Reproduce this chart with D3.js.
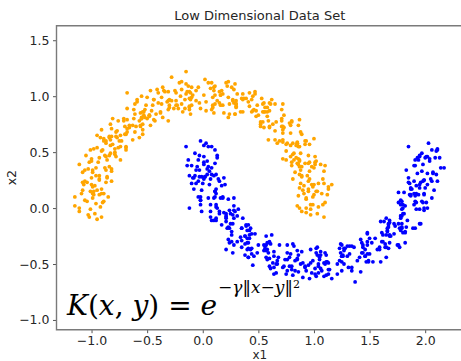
<!DOCTYPE html>
<html>
<head>
<meta charset="utf-8">
<script src="https://cdn.jsdelivr.net/npm/d3@7"></script>
<style>
  body { margin: 0; background: #fff; }
  svg { display: block; }
</style>
</head>
<body>
<svg id="chart" width="461" height="361"></svg>
<script>
// Axis ticks
const xTicks = [-1.0, -0.5, 0.0, 0.5, 1.0, 1.5, 2.0];
const yTicks = [-1.0, -0.5, 0.0, 0.5, 1.0, 1.5];
const xDomain = [-1.315, 2.34];
const yDomain = [-1.087, 1.63];

// Class 0: upper half-moon (x1, x2)
const upperMoon = [
[1.03,-0.05],[1.09,-0.08],[0.97,-0.06],[1.02,0.15],[1.10,0.05],[0.89,-0.03],
[0.93,-0.04],[0.99,0.10],[1.13,0.17],[1.12,0.12],[0.86,0.11],[0.90,0.16],
[0.87,0.00],[0.97,-0.01],[1.00,0.12],[0.99,0.19],[0.93,0.08],[0.99,0.03],
[0.97,0.03],[1.03,0.15],[1.04,0.01],[0.95,0.17],[0.91,0.20],[0.94,0.29],
[0.95,0.15],[1.00,0.36],[1.08,0.26],[0.87,0.18],[1.13,0.19],[1.09,0.22],
[1.10,0.38],[1.09,0.33],[0.83,0.32],[0.87,0.37],[1.04,0.22],[1.00,0.21],
[0.96,0.33],[0.95,0.40],[0.89,0.29],[0.95,0.24],[1.01,0.41],[0.88,0.22],
[0.98,0.21],[0.89,0.37],[0.85,0.40],[0.88,0.49],[1.01,0.39],[0.81,0.26],
[1.01,0.46],[0.80,0.38],[1.06,0.39],[1.02,0.42],[0.82,0.49],[0.89,0.28],
[0.75,0.51],[0.79,0.56],[0.96,0.41],[0.92,0.40],[0.98,0.37],[0.86,0.39],
[0.81,0.48],[0.87,0.43],[0.93,0.60],[0.80,0.41],[0.86,0.55],[1.00,0.62],
[0.76,0.58],[0.79,0.67],[0.92,0.57],[0.72,0.44],[0.82,0.43],[0.85,0.56],
[0.96,0.57],[0.92,0.60],[0.72,0.67],[0.79,0.46],[0.85,0.58],[0.86,0.44],
[0.85,0.59],[0.81,0.58],[0.87,0.55],[0.75,0.57],[0.80,0.78],[0.88,0.68],
[0.80,0.77],[0.67,0.58],[0.73,0.72],[0.87,0.79],[0.86,0.74],[0.60,0.73],
[0.79,0.74],[0.59,0.61],[0.69,0.60],[0.72,0.73],[0.71,0.80],[0.65,0.69],
[0.58,0.82],[0.65,0.61],[0.71,0.73],[0.72,0.59],[0.63,0.75],[0.59,0.78],
[0.72,0.70],[0.60,0.72],[0.65,0.93],[0.73,0.83],[0.52,0.75],[0.78,0.76],
[0.58,0.86],[0.72,0.93],[0.71,0.88],[0.45,0.87],[0.49,0.92],[0.66,0.77],
[0.52,0.73],[0.55,0.86],[0.54,0.93],[0.48,0.82],[0.54,0.77],[0.60,0.94],
[0.54,0.86],[0.55,0.72],[0.46,0.88],[0.42,0.91],[0.45,1.00],[0.58,0.90],
[0.47,1.04],[0.55,0.94],[0.34,0.86],[0.60,0.87],[0.56,0.90],[0.36,0.97],
[0.53,0.98],[0.27,0.97],[0.31,1.02],[0.48,0.87],[0.44,0.86],[0.50,0.83],
[0.36,1.02],[0.30,0.91],[0.36,0.86],[0.42,1.03],[0.29,0.84],[0.35,0.98],
[0.27,0.96],[0.23,0.99],[0.26,1.08],[0.39,0.98],[0.19,0.85],[0.29,0.84],
[0.15,0.94],[0.41,0.95],[0.37,0.98],[0.17,1.05],[0.24,0.84],[0.30,0.96],
[0.11,1.09],[0.28,0.94],[0.24,0.93],[0.30,0.90],[0.18,0.92],[0.23,1.13],
[0.16,0.92],[0.22,1.09],[0.09,0.90],[0.15,1.04],[0.29,1.11],[0.28,1.06],
[0.05,1.12],[0.18,1.02],[-0.02,0.89],[0.08,0.88],[0.11,1.01],[0.10,1.08],
[0.16,1.01],[-0.04,1.08],[0.03,0.87],[0.09,0.99],[0.10,0.85],[0.01,1.01],
[0.03,0.95],[0.09,0.92],[-0.03,0.94],[0.02,1.15],[0.10,1.05],[-0.11,0.97],
[-0.12,0.91],[-0.06,1.05],[0.08,1.12],[0.07,1.07],[-0.19,1.06],[-0.15,1.11],
[-0.22,0.89],[-0.12,0.88],[-0.09,1.01],[-0.10,1.08],[-0.16,0.97],[-0.10,0.92],
[-0.18,0.86],[-0.12,0.98],[-0.11,0.84],[-0.20,1.00],[-0.24,1.03],[-0.21,1.12],
[-0.24,0.92],[-0.19,1.13],[-0.11,1.03],[-0.32,0.95],[-0.06,0.96],[-0.10,0.99],
[-0.13,1.09],[-0.14,1.04],[-0.40,1.03],[-0.36,1.08],[-0.19,0.93],[-0.23,0.92],
[-0.30,0.97],[-0.31,1.04],[-0.37,0.93],[-0.31,0.88],[-0.25,1.05],[-0.38,0.86],
[-0.31,0.78],[-0.40,0.94],[-0.44,0.97],[-0.41,1.06],[-0.28,0.96],[-0.48,0.83],
[-0.31,0.96],[-0.52,0.88],[-0.26,0.89],[-0.30,0.92],[-0.50,0.99],[-0.43,0.78],
[-0.59,0.95],[-0.55,1.00],[-0.38,0.85],[-0.42,0.84],[-0.36,0.81],[-0.48,0.83],
[-0.56,0.85],[-0.50,0.80],[-0.44,0.97],[-0.57,0.78],[-0.51,0.92],[-0.37,0.99],
[-0.62,0.88],[-0.59,0.97],[-0.46,0.87],[-0.66,0.74],[-0.56,0.73],[-0.53,0.86],
[-0.44,0.79],[-0.48,0.82],[-0.68,0.89],[-0.61,0.68],[-0.55,0.80],[-0.54,0.66],
[-0.56,0.74],[-0.60,0.73],[-0.54,0.70],[-0.66,0.72],[-0.61,0.93],[-0.53,0.83],
[-0.61,0.84],[-0.74,0.65],[-0.68,0.79],[-0.54,0.86],[-0.55,0.81],[-0.81,0.80],
[-0.63,0.74],[-0.83,0.61],[-0.73,0.60],[-0.70,0.73],[-0.71,0.80],[-0.77,0.69],
[-0.83,0.75],[-0.76,0.54],[-0.70,0.66],[-0.69,0.52],[-0.78,0.68],[-0.82,0.71],
[-0.69,0.55],[-0.81,0.57],[-0.76,0.78],[-0.68,0.68],[-0.89,0.60],[-0.63,0.61],
[-0.82,0.64],[-0.68,0.71],[-0.69,0.66],[-0.95,0.65],[-0.91,0.70],[-0.74,0.55],
[-0.86,0.43],[-0.83,0.56],[-0.84,0.63],[-0.90,0.52],[-0.84,0.47],[-0.78,0.64],
[-0.83,0.49],[-0.82,0.35],[-0.91,0.51],[-0.95,0.54],[-0.92,0.63],[-0.79,0.53],
[-0.87,0.60],[-0.79,0.50],[-1.00,0.42],[-0.74,0.43],[-0.78,0.46],[-0.98,0.53],
[-0.79,0.48],[-1.05,0.47],[-1.01,0.52],[-0.84,0.37],[-0.88,0.36],[-0.82,0.33],
[-0.93,0.45],[-0.99,0.34],[-0.93,0.29],[-0.87,0.46],[-1.00,0.27],[-0.94,0.41],
[-0.99,0.32],[-1.03,0.35],[-1.00,0.44],[-0.87,0.34],[-1.07,0.21],[-0.97,0.20],
[-1.08,0.23],[-0.82,0.24],[-0.86,0.27],[-1.06,0.34],[-0.99,0.13],[-0.93,0.25],
[-1.08,0.32],[-0.91,0.17],[-0.95,0.16],[-0.89,0.13],[-1.01,0.15],[-0.96,0.36],
[-0.99,0.09],[-0.93,0.26],[-1.06,0.07],[-1.00,0.21],[-0.86,0.28],[-0.87,0.23],
[-1.04,0.23],[-0.91,0.13],[-1.11,0.00],[-1.01,-0.01],[-0.98,0.12],[-0.99,0.19],
[-0.89,0.06],[-1.09,0.13],[-1.02,-0.08],[-0.96,0.04],[-0.95,-0.10],[-1.04,0.06],
[-0.97,-0.05],[-0.91,-0.08],[-1.03,-0.06],[-0.98,0.15],[-0.90,0.05],[-1.11,-0.03],
[0.85,0.02],[0.93,0.09],[0.93,0.00],[0.91,0.13],[1.07,0.13],[0.88,0.34],
[0.96,0.26],[0.95,0.47],[0.87,0.42],[0.87,0.30],[0.75,0.43],[0.84,0.45],
[0.85,0.58],[0.89,0.66],[0.84,0.56],[0.71,0.78],[0.72,0.61],[0.52,0.77],
[0.56,0.86],[0.61,0.93],[0.62,0.97],[0.47,1.02],[0.44,0.97],[0.23,0.81],
[0.30,0.93],[0.21,1.12],[0.11,0.93],[0.30,0.93],[0.16,1.01],[0.13,0.96],
[-0.15,1.02],[-0.12,1.04],[-0.16,0.89],[-0.24,0.96],[-0.12,0.90],[-0.35,1.05],
[-0.30,0.90],[-0.34,1.04],[-0.45,0.92],[-0.47,0.74],[-0.62,0.80],[-0.54,0.75],
[-0.55,0.80],[-0.52,0.81],[-0.57,0.63],[-0.71,0.78],[-0.69,0.54],[-0.89,0.62],
[-0.84,0.64],[-0.77,0.63],[-0.75,0.60],[-0.87,0.58],[-0.88,0.47],[-1.06,0.24],
[-0.96,0.29],[-1.02,0.41],[-1.08,0.16],[-0.85,0.10],[-0.93,0.12],[-0.92,0.01],
[-1.15,0.02],
[-1.15,0.10],[-1.11,0.39],[-0.68,1.03],[-0.15,1.22],[-0.28,1.17],[1.16,0.21],[-0.47,1.05],[1.08,0.03]
];

// Class 1: lower half-moon (x1, x2)
const lowerMoon = [
[-0.15,0.55],[0.01,0.46],[0.04,0.42],[0.13,0.45],[0.03,0.58],[-0.10,0.38],
[0.05,0.55],[-0.03,0.34],[-0.02,0.60],[0.01,0.56],[0.08,0.36],[-0.13,0.43],
[0.07,0.26],[0.12,0.30],[-0.03,0.47],[-0.04,0.43],[-0.07,0.49],[-0.05,0.37],
[-0.01,0.28],[-0.06,0.34],[0.11,0.40],[-0.08,0.27],[0.06,0.33],[0.13,0.47],
[0.06,0.21],[0.15,0.24],[0.05,0.37],[-0.08,0.17],[-0.09,0.27],[0.04,0.30],
[0.01,0.39],[0.04,0.35],[0.11,0.15],[-0.10,0.22],[0.02,0.28],[-0.12,0.29],
[0.01,0.26],[0.00,0.22],[-0.03,0.28],[-0.01,0.16],[0.20,0.21],[0.10,0.29],
[0.17,0.20],[-0.02,0.07],[0.12,0.13],[0.19,0.27],[0.14,0.26],[0.13,0.00],
[0.12,0.17],[-0.01,-0.03],[-0.02,0.07],[0.11,0.10],[0.18,0.09],[0.07,0.03],
[0.19,-0.04],[-0.02,0.03],[0.10,0.09],[-0.04,0.10],[0.12,0.01],[0.15,-0.03],
[0.05,0.09],[0.07,-0.03],[0.28,0.02],[0.18,0.10],[0.10,-0.11],[0.11,0.15],
[0.21,-0.05],[0.28,0.09],[0.23,0.08],[0.22,-0.18],[0.27,-0.14],[0.12,0.03],
[0.08,-0.11],[0.21,-0.08],[0.28,-0.09],[0.17,-0.15],[0.12,-0.09],[0.29,-0.03],
[0.21,-0.09],[0.07,-0.08],[0.23,-0.17],[0.26,-0.21],[0.35,-0.18],[0.25,-0.05],
[0.41,-0.15],[0.31,-0.07],[0.23,-0.28],[0.24,-0.02],[0.27,-0.06],[0.34,-0.26],
[0.36,-0.09],[0.35,-0.35],[0.40,-0.31],[0.25,-0.14],[0.24,-0.18],[0.21,-0.12],
[0.42,-0.24],[0.31,-0.30],[0.26,-0.24],[0.43,-0.18],[0.24,-0.31],[0.38,-0.25],
[0.38,-0.32],[0.41,-0.36],[0.50,-0.33],[0.40,-0.20],[0.27,-0.40],[0.26,-0.30],
[0.38,-0.42],[0.39,-0.16],[0.42,-0.20],[0.49,-0.40],[0.28,-0.33],[0.40,-0.27],
[0.57,-0.44],[0.42,-0.27],[0.41,-0.31],[0.38,-0.25],[0.40,-0.37],[0.61,-0.32],
[0.43,-0.37],[0.60,-0.31],[0.41,-0.44],[0.55,-0.38],[0.62,-0.24],[0.57,-0.25],
[0.68,-0.44],[0.58,-0.31],[0.45,-0.51],[0.44,-0.41],[0.57,-0.38],[0.64,-0.39],
[0.60,-0.30],[0.67,-0.50],[0.46,-0.43],[0.58,-0.37],[0.44,-0.36],[0.60,-0.45],
[0.59,-0.40],[0.56,-0.34],[0.58,-0.46],[0.79,-0.41],[0.69,-0.33],[0.61,-0.54],
[0.60,-0.52],[0.74,-0.46],[0.81,-0.32],[0.76,-0.33],[0.75,-0.59],[0.80,-0.55],
[0.64,-0.59],[0.63,-0.49],[0.76,-0.46],[0.83,-0.47],[0.72,-0.53],[0.67,-0.47],
[0.66,-0.50],[0.78,-0.44],[0.64,-0.43],[0.80,-0.52],[0.83,-0.56],[0.92,-0.53],
[0.78,-0.52],[0.99,-0.47],[0.89,-0.39],[0.81,-0.60],[0.82,-0.34],[0.85,-0.38],
[1.02,-0.36],[0.97,-0.37],[0.96,-0.63],[1.01,-0.59],[0.86,-0.42],[0.85,-0.46],
[0.97,-0.49],[1.04,-0.50],[0.93,-0.56],[0.88,-0.50],[1.05,-0.44],[0.86,-0.57],
[0.85,-0.45],[1.01,-0.54],[1.04,-0.58],[1.13,-0.55],[1.03,-0.42],[0.90,-0.62],
[1.10,-0.40],[1.02,-0.61],[1.03,-0.35],[1.06,-0.39],[1.13,-0.59],[0.92,-0.52],
[1.16,-0.63],[1.21,-0.59],[1.06,-0.42],[1.05,-0.46],[1.02,-0.40],[1.04,-0.52],
[1.14,-0.55],[1.09,-0.49],[1.26,-0.43],[1.07,-0.56],[1.21,-0.50],[1.28,-0.36],
[1.25,-0.56],[1.34,-0.53],[1.24,-0.40],[1.11,-0.60],[1.10,-0.50],[1.23,-0.47],
[1.24,-0.32],[1.27,-0.36],[1.34,-0.56],[1.13,-0.49],[1.25,-0.43],[1.11,-0.42],
[1.27,-0.38],[1.26,-0.42],[1.23,-0.36],[1.25,-0.48],[1.46,-0.43],[1.36,-0.35],
[1.46,-0.37],[1.27,-0.50],[1.41,-0.44],[1.48,-0.30],[1.43,-0.31],[1.42,-0.57],
[1.44,-0.33],[1.31,-0.53],[1.30,-0.43],[1.43,-0.40],[1.50,-0.41],[1.39,-0.47],
[1.53,-0.48],[1.32,-0.41],[1.44,-0.35],[1.30,-0.34],[1.46,-0.43],[1.49,-0.47],
[1.42,-0.28],[1.44,-0.40],[1.65,-0.35],[1.55,-0.27],[1.47,-0.48],[1.48,-0.22],
[1.59,-0.35],[1.66,-0.21],[1.61,-0.22],[1.60,-0.48],[1.65,-0.44],[1.50,-0.27],
[1.48,-0.33],[1.61,-0.30],[1.68,-0.31],[1.57,-0.37],[1.52,-0.31],[1.69,-0.25],
[1.62,-0.24],[1.48,-0.23],[1.64,-0.32],[1.67,-0.36],[1.76,-0.33],[1.66,-0.20],
[1.82,-0.22],[1.72,-0.14],[1.64,-0.35],[1.65,-0.09],[1.68,-0.13],[1.75,-0.33],
[1.78,-0.09],[1.77,-0.35],[1.82,-0.31],[1.67,-0.14],[1.66,-0.18],[1.63,-0.12],
[1.83,-0.17],[1.72,-0.23],[1.67,-0.17],[1.84,-0.11],[1.65,-0.24],[1.79,-0.18],
[1.79,-0.17],[1.82,-0.21],[1.91,-0.18],[1.81,-0.05],[1.68,-0.25],[1.67,-0.15],
[1.78,-0.20],[1.79,0.06],[1.82,0.02],[1.89,-0.18],[1.68,-0.11],[1.80,-0.05],
[1.95,-0.14],[1.80,0.03],[1.79,-0.01],[1.76,0.05],[1.78,-0.07],[1.99,-0.02],
[1.80,0.00],[1.97,0.06],[1.78,-0.07],[1.92,-0.01],[1.99,0.13],[1.94,0.12],
[2.02,0.00],[1.92,0.13],[1.79,-0.07],[1.78,0.03],[1.91,0.06],[1.98,0.05],
[1.92,0.20],[1.99,0.00],[1.78,0.07],[1.90,0.13],[1.76,0.14],[1.92,0.05],
[1.88,0.17],[1.85,0.23],[1.87,0.11],[2.08,0.16],[1.98,0.24],[1.90,0.03],
[1.86,0.12],[2.00,0.18],[2.07,0.32],[2.02,0.31],[2.01,0.05],[2.06,0.09],
[1.87,0.12],[1.86,0.22],[1.99,0.25],[2.06,0.24],[1.95,0.18],[1.90,0.24],
[1.85,0.27],[1.97,0.33],[1.83,0.34],[1.99,0.25],[2.02,0.21],[2.11,0.24],
[1.93,0.31],[2.14,0.36],[2.04,0.44],[1.96,0.23],[1.97,0.49],[2.00,0.45],
[2.11,0.53],[2.06,0.52],[2.05,0.26],[2.10,0.30],[1.95,0.47],[1.94,0.43],
[2.02,0.46],[2.09,0.45],[1.98,0.39],[1.93,0.45],[2.10,0.51],[1.91,0.38],
[1.85,0.55],[2.01,0.46],[2.04,0.42],[2.13,0.45],[2.03,0.58],[1.90,0.38],
[0.11,0.52],[0.01,0.41],[-0.14,0.38],[-0.06,0.22],[-0.07,0.29],[0.02,0.28],
[0.08,0.30],[-0.04,0.24],[0.16,0.09],[-0.02,0.10],[0.12,-0.11],[0.21,-0.07],
[0.28,-0.02],[0.32,-0.01],[0.39,-0.15],[0.35,-0.18],[0.21,-0.37],[0.35,-0.29],
[0.56,-0.36],[0.41,-0.44],[0.44,-0.23],[0.57,-0.33],[0.55,-0.33],[0.66,-0.58],
[0.73,-0.52],[0.64,-0.53],[0.76,-0.56],[0.76,-0.40],[0.98,-0.58],[0.90,-0.49],
[1.11,-0.48],[1.06,-0.54],[0.95,-0.51],[1.09,-0.61],[1.12,-0.48],[1.25,-0.43],
[1.34,-0.34],[1.25,-0.33],[1.48,-0.41],[1.32,-0.34],[1.49,-0.48],[1.59,-0.37],
[1.68,-0.24],[1.73,-0.16],[1.80,-0.22],[1.77,-0.18],[1.62,-0.30],[1.76,-0.14],
[1.96,-0.14],[1.79,-0.14],[1.81,0.14],[1.91,0.11],[1.87,0.17],[1.95,-0.01],
[1.99,0.12],[1.87,0.18],[1.95,0.21],[1.91,0.43],[2.07,0.31],[1.95,0.46],
[2.11,0.52],
[-0.12,0.00],[0.08,0.55],[2.17,0.36],[1.37,-0.66],[0.47,-0.23],[1.60,-0.12],[0.15,-0.05]
];

const plot = { left: 56.5, right: 463, top: 25.7, bottom: 329.7 };

const svg = d3.select('#chart');

const x = d3.scaleLinear().domain(xDomain).range([plot.left, plot.right]);
const y = d3.scaleLinear().domain(yDomain).range([plot.bottom, plot.top]);

const font = "'DejaVu Sans', sans-serif";

// scatter points, one colour per class
const pts = svg.append('g');
pts.selectAll('circle.c0').data(upperMoon).join('circle')
  .attr('class', 'c0')
  .attr('cx', d => x(d[0])).attr('cy', d => y(d[1]))
  .attr('r', 1.9).attr('fill', 'orange');
pts.selectAll('circle.c1').data(lowerMoon).join('circle')
  .attr('class', 'c1')
  .attr('cx', d => x(d[0])).attr('cy', d => y(d[1]))
  .attr('r', 1.9).attr('fill', 'blue');

// axes
const fmt = d3.format('.1f');
const xAxis = svg.append('g')
  .attr('transform', `translate(0,${plot.bottom})`)
  .call(d3.axisBottom(x).tickValues(xTicks).tickFormat(fmt).tickSize(3.5).tickPadding(3));
const yAxis = svg.append('g')
  .attr('transform', `translate(${plot.left},0)`)
  .call(d3.axisLeft(y).tickValues(yTicks).tickFormat(fmt).tickSize(3.5).tickPadding(3.5));
[xAxis, yAxis].forEach(a => {
  a.select('.domain').remove();
  a.selectAll('.tick line').attr('stroke', '#555').attr('stroke-width', 1);
  a.selectAll('.tick text').attr('fill', '#262626')
    .style('font-family', font).style('font-size', '12.5px');
});

// frame (spines)
svg.append('path')
  .attr('d', `M${plot.right},${plot.top}H${plot.left}V${plot.bottom}H${plot.right}`)
  .attr('fill', 'none').attr('stroke', '#7a7a7a').attr('stroke-width', 1.4);

// title and axis labels
const cx = (plot.left + plot.right) / 2;
svg.append('text').attr('x', cx).attr('y', 19.5)
  .attr('text-anchor', 'middle').attr('fill', '#262626')
  .style('font-family', font).style('font-size', '13px')
  .text('Low Dimensional Data Set');
svg.append('text').attr('x', cx).attr('y', 359)
  .attr('text-anchor', 'middle').attr('fill', '#262626')
  .style('font-family', font).style('font-size', '12px')
  .text('x1');
svg.append('text')
  .attr('transform', `translate(16,${(plot.top + plot.bottom) / 2}) rotate(-90)`)
  .attr('text-anchor', 'middle').attr('fill', '#262626')
  .style('font-family', font).style('font-size', '12.5px')
  .text('x2');

// RBF kernel formula
const serif = "'DejaVu Serif', 'Liberation Serif', serif";
const formula = svg.append('text')
  .attr('x', 67).attr('y', 315)
  .attr('fill', '#000')
  .style('font-family', serif).style('font-size', '28px');
const parts = [
  ['K', true], ['(', false], ['x', true], [', ', false], ['y', true], [')', false],
  [' = ', false], ['e', true]
];
parts.forEach(([t, it]) => {
  formula.append('tspan').style('font-style', it ? 'italic' : 'normal').text(t);
});
const sup = [
  ['\u2212', false], ['\u03B3', true], ['\u2016', false], ['x', true],
  ['\u2212', false], ['y', true], ['\u2016', false]
];
sup.forEach(([t, it], i) => {
  const ts = formula.append('tspan')
    .style('font-style', it ? 'italic' : 'normal')
    .style('font-size', '17px')
    .text(t);
  if (i === 0) ts.attr('dy', -22).attr('dx', 1);
});
formula.append('tspan').style('font-size', '11px').attr('dy', -5).text('2');
</script>
</body>
</html>
